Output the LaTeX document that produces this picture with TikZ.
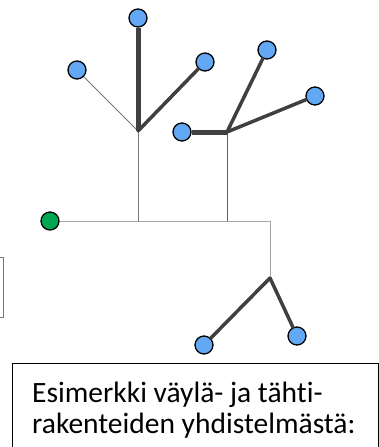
\documentclass[tikz,border=0pt]{standalone}
\usepackage{fontspec}
\setmainfont{Carlito}[Ligatures=NoCommon]
\newcommand\tekstikoko{\fontsize{29.5pt}{31pt}\selectfont}
\begin{document}
\begin{tikzpicture}[x=1pt,y=-1pt]
    \definecolor{sininen}{RGB}{99,168,245};
    \definecolor{vihrea}{RGB}{0,166,80};
    \definecolor{tumma}{RGB}{64,64,64};
    \definecolor{harmaa}{RGB}{120,120,120};
    \definecolor{vaalea}{RGB}{165,165,165};
\clip (0,0) rectangle (379,447);
% tahtien keskipisteet ja vaylan kulmat
\coordinate (k1) at (138,131);
\coordinate (k2) at (227,132);
\coordinate (k3) at (270,278);
\coordinate (p1) at (138,221);
\coordinate (p2) at (227,221);
\coordinate (p3) at (270,221);
 \tikzstyle{every node}=[draw=black,line width=1.3pt,shape=circle,fill=sininen,minimum size=18pt,inner sep=0pt];
\node (a1) at (77,70) {};
\node (a2) at (138,18) {};
\node (a3) at (205,62) {};
\node (b1) at (182,132) {};
\node (b2) at (267,50) {};
\node (b3) at (315,96) {};
\node (c1) at (204,345) {};
\node (c2) at (297,336) {};
\node [fill=vihrea] (g) at (50,221) {};
% vayla
\draw [color=vaalea,line width=1pt] (g)--(p3)--(k3);
\draw [color=harmaa,line width=0.8pt] (k1)--(p1);
\draw [color=harmaa!80!black,line width=0.8pt] (k2)--(p2);
% tahdet
\draw [color=harmaa,line width=0.9pt] (k1)--(a1);
\draw [color=tumma,line width=5pt] (k1)--(a2);
\draw [color=tumma,line width=3.5pt,line cap=round] (k1)--(a3);
\draw [color=tumma,line width=5pt] (k2)--(b1);
\draw [color=tumma,line width=3.5pt,line cap=round] (k2)--(b2);
\draw [color=tumma,line width=3.5pt,line cap=round] (k2)--(b3);
\draw [color=tumma,line width=3.5pt,line cap=round] (k3)--(c1);
\draw [color=tumma,line width=3.5pt,line cap=round] (k3)--(c2);
% laatikot
\draw [color=harmaa,line width=1pt] (-10,257) rectangle (3,317);
\draw [line width=1pt] (12,363) rectangle (378,470);
 \tikzstyle{every node}=[];
\node [anchor=base west,inner sep=0pt,font=\tekstikoko] (t1) at (32,402) {Esimerkki väylä- ja tähti-};
\node [anchor=base west,inner sep=0pt,font=\tekstikoko] (t2) at (32,433) {rakenteiden yhdistelmästä:};
\end{tikzpicture}
\end{document}
